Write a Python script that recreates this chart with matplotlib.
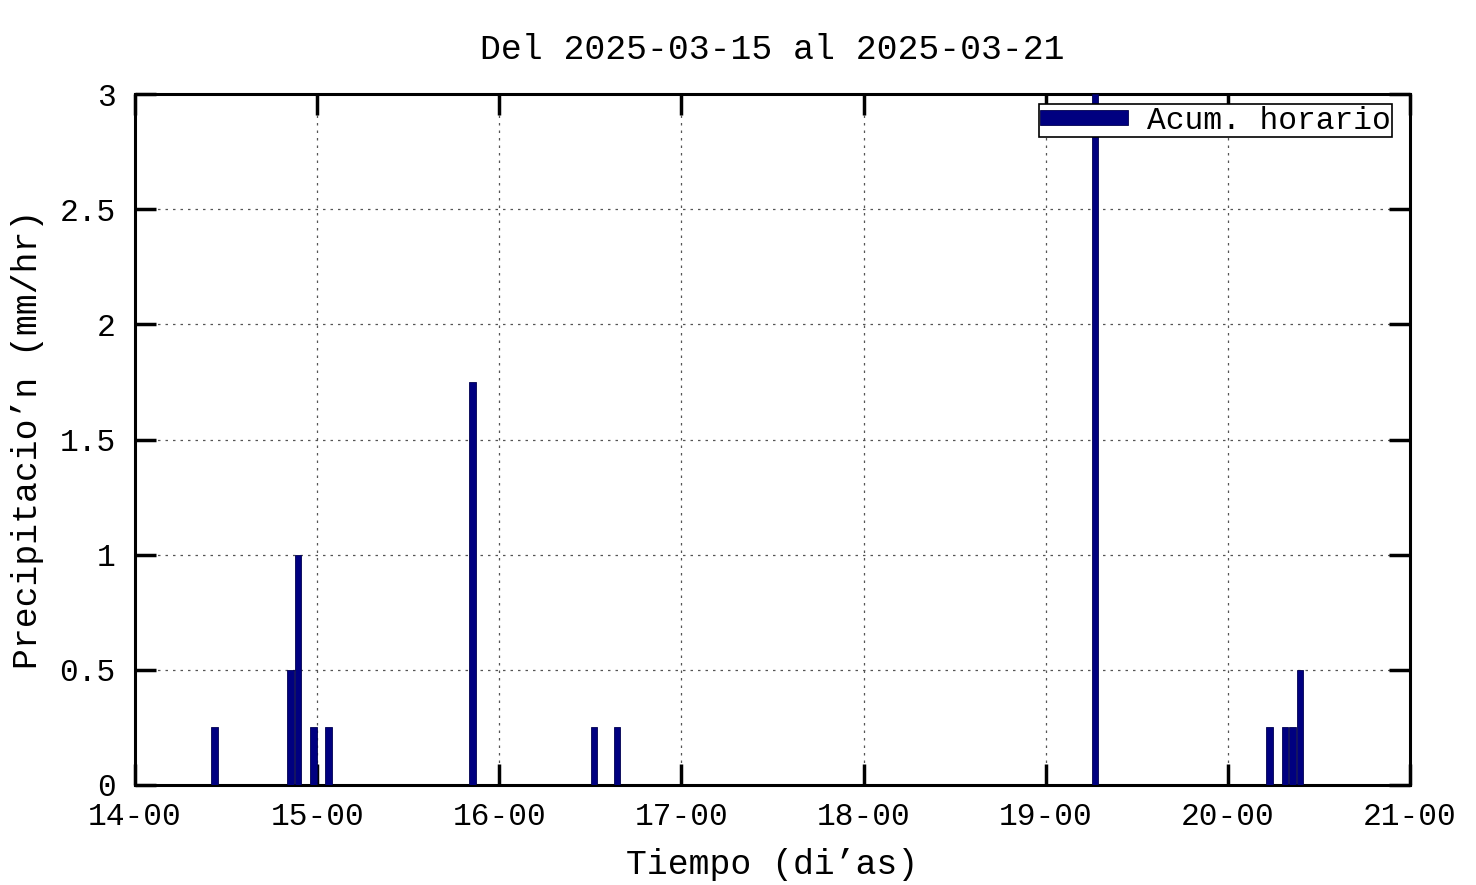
import matplotlib.pyplot as plt
from matplotlib.ticker import FixedLocator

# hourly accumulated rain, hours counted from 2025-03-14 00:00
rain_hours = [10, 20, 21, 23, 25, 44, 60, 63, 126, 149, 151, 152, 153]
rain_mm = [0.25, 0.5, 1.0, 0.25, 0.25, 1.75, 0.25, 0.25, 3.0, 0.25, 0.25, 0.25, 0.5]

x_ticks = [14, 15, 16, 17, 18, 19, 20, 21]
x_labels = ["14-00", "15-00", "16-00", "17-00", "18-00", "19-00", "20-00", "21-00"]
y_ticks = [0, 0.5, 1, 1.5, 2, 2.5, 3]
y_labels = ["0", "0.5", "1", "1.5", "2", "2.5", "3"]

plt.rcParams["font.family"] = ["Liberation Mono", "DejaVu Sans Mono"]
FS = 25      # title / axis labels
FS_T = 22.5  # ticks / legend

fig = plt.figure(figsize=(14.76, 8.85), dpi=100)
ax = fig.add_axes([135 / 1476, 1 - 785 / 885, 1275 / 1476, 691 / 885])

days = [14 + (h + 0.5) / 24 for h in rain_hours]
ax.bar(days, rain_mm, width=0.85 / 24, color="#000080", edgecolor="#000050",
       linewidth=0.6, label="Acum. horario", zorder=3)

ax.set_xlim(14, 21)
ax.set_ylim(0, 3)
ax.xaxis.set_major_locator(FixedLocator(x_ticks))
ax.set_xticklabels(x_labels)
ax.yaxis.set_major_locator(FixedLocator(y_ticks))
ax.set_yticklabels(y_labels)

ax.tick_params(direction="in", length=15, width=2.5, labelsize=FS_T,
               top=True, right=True)
ax.tick_params(axis="x", pad=12)
ax.tick_params(axis="y", pad=14)
for s in ax.spines.values():
    s.set_linewidth(2.2)

ax.grid(True, color="#555555", linestyle=(0, (2, 4)), linewidth=0.9, zorder=0)

ax.set_title("Del 2025-03-15 al 2025-03-21", fontsize=FS, pad=25)
ax.set_xlabel("Tiempo (di’as)", fontsize=FS, labelpad=12)
ax.set_ylabel("Precipitacio’n (mm/hr)", fontsize=FS, labelpad=11)

leg = ax.legend(loc="upper right", bbox_to_anchor=(0.9859, 0.9855),
                fontsize=FS_T, frameon=True, fancybox=False,
                borderpad=0.05, handlelength=2.8, handleheight=0.35,
                handletextpad=0.6, borderaxespad=0)
leg.get_frame().set_edgecolor("black")
leg.get_frame().set_linewidth(1.2)
leg.get_frame().set_alpha(1)

fig.savefig("out.png", dpi=100)
